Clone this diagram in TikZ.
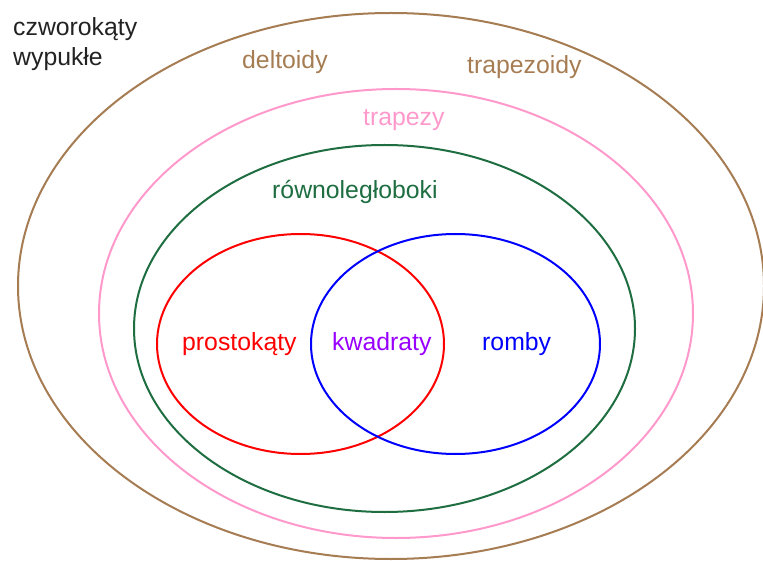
\documentclass[tikz,border=0pt]{standalone}
\usepackage{fontspec}
\setmainfont{Liberation Sans}
\definecolor{cbrown}{RGB}{166,124,82}
\definecolor{cpink}{RGB}{255,153,204}
\definecolor{cgreen}{RGB}{30,110,65}
\definecolor{cred}{RGB}{255,0,0}
\definecolor{cblue}{RGB}{0,0,255}
\definecolor{cpurple}{RGB}{153,0,255}
\definecolor{ctext}{RGB}{34,34,34}
\tikzset{
  setline/.style={line width=2pt},
  lbl/.style={inner sep=0pt, anchor=base west, font=\fontsize{24.8}{30}\selectfont}
}
\begin{document}
\begin{tikzpicture}[x=1pt,y=-1pt]
\useasboundingbox[fill=white] (0,0) rectangle (763,561);
% sets
\draw[setline, cbrown] (391,286) ellipse [x radius=373pt, y radius=273pt];
\draw[setline, cpink] (396,313.5) ellipse [x radius=297pt, y radius=224.5pt];
\draw[setline, cgreen] (384.5,328.5) ellipse [x radius=250.5pt, y radius=183.5pt];
\draw[setline, cred] (300.5,344) ellipse [x radius=143.5pt, y radius=110pt];
\draw[setline, cblue] (455.5,344) ellipse [x radius=144.5pt, y radius=110pt];
% labels
\node[lbl, text=ctext] (czw) at (13,36) {czworokąty};
\node[lbl, text=ctext] (wyp) at (13,66) {wypukłe};
\node[lbl, text=cbrown] (delt) at (242,69) {deltoidy};
\node[lbl, text=cbrown] (trzd) at (467,74) {trapezoidy};
\node[lbl, text=cpink] (trap) at (363,126) {trapezy};
\node[lbl, text=cgreen] (rown) at (272,199) {równoległoboki};
\node[lbl, text=cred] (prost) at (182,350) {prostokąty};
\node[lbl, text=cpurple] (kwad) at (332,350) {kwadraty};
\node[lbl, text=cblue] (romb) at (482,350) {romby};
\end{tikzpicture}
\end{document}
